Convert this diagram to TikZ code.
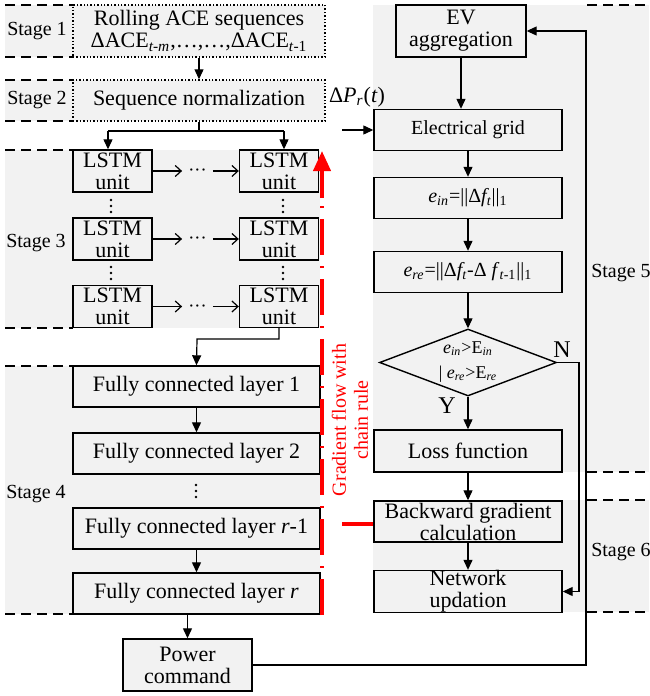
\documentclass[tikz,border=0pt]{standalone}
\usepackage{fontspec}
\setmainfont{Liberation Serif}
\usepackage{xcolor}
\usepackage{tikz}
\usetikzlibrary{positioning,arrows.meta,shapes.geometric}
\definecolor{bgray}{RGB}{242,242,242}

\begin{document}
\begin{tikzpicture}[x=0.5pt, y=-0.5pt, font=\fontsize{11}{11}\selectfont,
    blk/.style={draw, fill=bgray, inner sep=0pt, align=center, line width=0.7pt},
    lstm/.style={blk, minimum width=39.5pt, minimum height=21pt},
    fcbox/.style={blk, minimum width=123.5pt, minimum height=20.5pt},
    flowbox/.style={blk, minimum width=94pt, minimum height=20.5pt},
    seqbox/.style={draw, densely dotted, fill=bgray, inner sep=0pt, align=center, line width=0.7pt, minimum width=126pt},
    stagelbl/.style={font=\fontsize{10}{12}\selectfont},
    stagedash/.style={dash pattern=on 5pt off 3pt, line width=0.7pt},
    arr/.style={-{Triangle[length=5pt,width=4.5pt]}, line width=0.6pt},
    oarr/.style={-{Straight Barb[length=3pt,width=5.5pt]}, line width=0.6pt},
    grad/.style={red, line width=2pt}]
    \useasboundingbox (0,0) rectangle (649,696);

    % Stage backgrounds
    \fill[bgray] (5,5) rectangle (325,57);
    \fill[bgray] (5,80) rectangle (325,121);
    \fill[bgray] (5,150) rectangle (320,328);
    \fill[bgray] (5,366) rectangle (320,614);
    \fill[bgray] (373,5) rectangle (649,472);
    \fill[bgray] (373,500) rectangle (649,612);

    % Stage borders
    \foreach \y in {5,57,80,121,150,328,366,614}
        \draw[stagedash] (5,\y) -- (73,\y);
    \foreach \y in {5,472,500,612}
        \draw[stagedash] (587,\y) -- (649,\y);

    \node[stagelbl] (s1) at (37,31) {Stage 1};
    \node[stagelbl] (s2) at (37,100) {Stage 2};
    \node[stagelbl] (s3) at (36,243) {Stage 3};
    \node[stagelbl] (s4) at (36,494) {Stage 4};
    \node[stagelbl] (s5) at (621,273) {Stage 5};
    \node[stagelbl] (s6) at (621,552) {Stage 6};

    % Stage 1 and 2
    \node[seqbox, minimum height=26pt] (roll) at (199,31) {Rolling ACE sequences\\ΔACE\textsubscript{\textit{t-m}},…,…,ΔACE\textsubscript{\textit{t}-1}};
    \node[seqbox, minimum height=20.5pt] (norm) at (199,100.5) {Sequence normalization};
    \draw[arr] (roll.south) -- (norm.north);

    % Stage 3
    \foreach \r/\y in {1/171,2/239,3/306.5} {
        \node[lstm] (l\r) at (112.5,\y) {LSTM\\unit};
        \node[lstm] (r\r) at (279,\y) {LSTM\\unit};
        \node[minimum width=15pt, inner sep=0pt] (h\r) at (197.5,\y) {$\mathord{\cdot}\mathord{\cdot}\mathord{\cdot}$};
        \draw[oarr] (l\r) -- (h\r);
        \draw[oarr] (h\r) -- (r\r);
    }
    % vertical dots
    \foreach \x/\y in {111/206,283/206,111/273,283/273,196/491}
        \foreach \d in {-6,0,6}
            \fill (\x,\y+\d) circle (0.65pt);
    \coordinate (splitL) at (108,131);
    \coordinate (splitR) at (284,131);
    \draw[line width=0.6pt] (norm.south) -- (norm.south |- splitL);
    \draw[line width=0.6pt] (splitL) -- (splitR);
    \draw[arr] (splitL) -- (splitL |- l1.north);
    \draw[arr] (splitR) -- (splitR |- r1.north);

    % Stage 4
    \node[fcbox] (fc1) at (196.5,386.5) {Fully connected layer 1};
    \node[fcbox] (fc2) at (196.5,453.5) {Fully connected layer 2};
    \node[fcbox] (fcr1) at (196.5,528.5) {Fully connected layer \textit{r}-1};
    \node[fcbox] (fcr) at (196.5,593.5) {Fully connected layer \textit{r}};
    \node[blk, minimum width=64.5pt, minimum height=26pt] (pc) at (187.5,665) {Power\\command};
    \coordinate (jn) at (197,339);
    \draw[arr] (r3.south) |- (jn) -- (fc1.north);
    \draw[arr] (fc1) -- (fc2);
    \draw[arr] (fcr1) -- (fcr);
    \draw[arr] (pc.north |- fcr.south) -- (pc.north);

    % Stage 5
    \node[blk, minimum width=65pt, minimum height=26pt] (ev) at (461,31) {EV\\aggregation};
    \node[flowbox, font=\fontsize{10}{10}\selectfont] (grid) at (468,130) {Electrical grid};
    \node[flowbox, font=\fontsize{10}{10}\selectfont] (ein) at (468,198) {\textit{e}\textsubscript{\textit{in}}=||Δ\textit{f\textsubscript{t}}||\textsubscript{1}};
    \node[flowbox, font=\fontsize{10}{10}\selectfont] (ere) at (468,272) {\textit{e}\textsubscript{\textit{re}}=||Δ\textit{f\textsubscript{t}}-Δ \textit{f}\textsubscript{\textit{t}-1}||\textsubscript{1}};
    \node[diamond, draw, line width=0.7pt, fill=bgray, inner sep=0pt, shape aspect=2.6, minimum width=88.5pt, minimum height=33.5pt, align=center, font=\fontsize{9}{12.5}\selectfont] (dia) at (468,362.5) {\textit{e}\textsubscript{\textit{in}}>E\textsubscript{\textit{in}}\\| \textit{e}\textsubscript{\textit{re}}>E\textsubscript{\textit{re}}};
    \node[flowbox, minimum height=21pt] (loss) at (468,451) {Loss function};
    \node[font=\fontsize{12}{12}\selectfont] (ylbl) at (447,406) {Y};
    \node[font=\fontsize{12}{12}\selectfont] (nlbl) at (562,350) {N};
    \node (dp) at (357,97) {Δ\textit{P}\textsubscript{\textit{r}}(\textit{t})};
    \coordinate (dpin) at (342,130);
    \draw[arr] (ev.south) -- (ev.south |- grid.north);
    \draw[arr] (dpin) -- (grid.west);
    \draw[arr] (grid) -- (ein);
    \draw[arr] (ein) -- (ere);
    \draw[arr] (ere) -- (dia.north);
    \draw[arr] (dia.south) -- (loss);

    % Stage 6
    \node[flowbox] (back) at (468,521.5) {Backward gradient\\calculation};
    \node[flowbox] (net) at (468,591.5) {Network\\updation};
    \draw[arr] (loss) -- (back);
    \draw[arr] (back) -- (net);
    \coordinate (nk) at (579,362.5);
    \draw[arr] (dia.east) -- (nk) |- (net.east);

    % Feedback loop
    \coordinate (fbk) at (586,31);
    \draw[arr] (pc.east) -| (fbk) -- (ev.east);

    % Gradient flow
    \coordinate (gbot) at (322,615);
    \coordinate (gmid) at (322,198);
    \coordinate (gtop) at (322,151);
    \draw[grad, dash pattern=on 18pt off 5.5pt on 1pt off 5.5pt] (gbot) -- (gmid);
    \draw[grad, -{Triangle[length=10pt,width=8.5pt]}] (gmid) -- (gtop);
    \coordinate (rh) at (342,524);
    \draw[grad] (rh) -- (rh -| back.west);
    \node[red, rotate=90, align=center, font=\fontsize{10}{11}\selectfont] (gtxt) at (350,420) {Gradient flow with\\chain rule};
\end{tikzpicture}
\end{document}
